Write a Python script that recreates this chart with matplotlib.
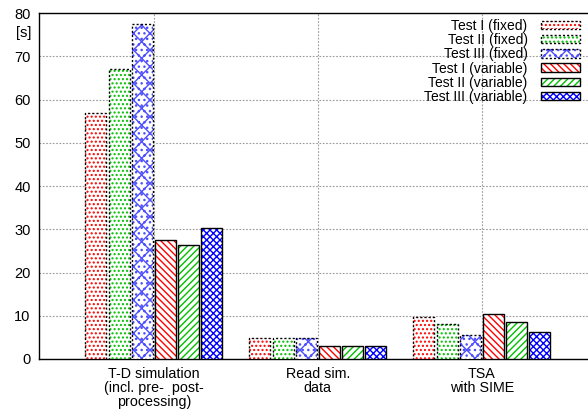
import matplotlib
matplotlib.use("Agg")
import matplotlib.pyplot as plt
from matplotlib.patches import Patch
import numpy as np

categories = ["T-D simulation\n(incl. pre-  post-\nprocessing)", "Read sim.\ndata", "TSA\nwith SIME"]
series_names = ["Test I (fixed)", "Test II (fixed)", "Test III (fixed)",
                "Test I (variable)", "Test II (variable)", "Test III (variable)"]
values = [
    [56.9, 4.9, 9.8],
    [67.0, 4.9, 8.0],
    [77.5, 4.9, 5.5],
    [27.6, 3.0, 10.3],
    [26.4, 3.0, 8.6],
    [30.3, 3.0, 6.2],
]
yticks = [0, 10, 20, 30, 40, 50, 60, 70, 80]

colors = ["#ff0000", "#00c000", "#5050ff", "#ff0000", "#00c000", "#0000ff"]
hatches = ["....", "....", "xx...", "\\" * 5, "/" * 5, "xxxxx"]
edge_ls = [(0, (1.5, 1.5))] * 3 + ["-"] * 3

plt.rcParams['font.family'] = ['Liberation Sans', 'DejaVu Sans']
plt.rcParams['hatch.linewidth'] = 1.0

fig = plt.figure(figsize=(5.88, 4.12), dpi=100)
ax = fig.add_axes([39/588, 53/412, 557.6/588, 346/412])

x = np.arange(len(categories))
pitch = 0.1413
width = 0.128
handles = []
for i, (name, vals) in enumerate(zip(series_names, values)):
    pos = x + (i - 2.5) * pitch
    ax.bar(pos, vals, width, color="white", edgecolor=colors[i], hatch=hatches[i],
           linewidth=0, zorder=3)
    ax.bar(pos, vals, width, fill=False, edgecolor="black", linewidth=1.0,
           linestyle=edge_ls[i], zorder=4)
    h1 = Patch(facecolor="white", edgecolor=colors[i], hatch=hatches[i], linewidth=0)
    h2 = Patch(fill=False, edgecolor="black", linewidth=1.0, linestyle=edge_ls[i])
    handles.append((h1, h2))

ax.set_xlim(-0.7, 2.7)
ax.set_ylim(0, 80)
ax.set_yticks(yticks)
ax.set_yticklabels([str(t) for t in yticks], fontsize=10.5)
ax.set_xticks(x)
ax.set_xticklabels(categories, fontsize=10.3, linespacing=1.0)
ax.tick_params(axis='both', length=0, pad=6)
ax.grid(True, color="#999999", linestyle=(0, (1.5, 1.5)), linewidth=0.8, zorder=0)
ax.set_axisbelow(True)
for s in ax.spines.values():
    s.set_linewidth(1.0)
ax.text(-0.0145, 75.4, "[s]", transform=ax.get_yaxis_transform(), ha="right", va="center", fontsize=10.5)

leg = ax.legend(handles, series_names, loc="upper right",
                bbox_to_anchor=((581 - 39 + 9) / 557.6, 1.0 + 4 / 346),
                markerfirst=False, frameon=False, fontsize=10, handlelength=2.8,
                handleheight=0.55, labelspacing=0.02, borderaxespad=0.3, handletextpad=1.0)
for t in leg.get_texts():
    t.set_ha("right")

fig.savefig("out.png", dpi=100)
